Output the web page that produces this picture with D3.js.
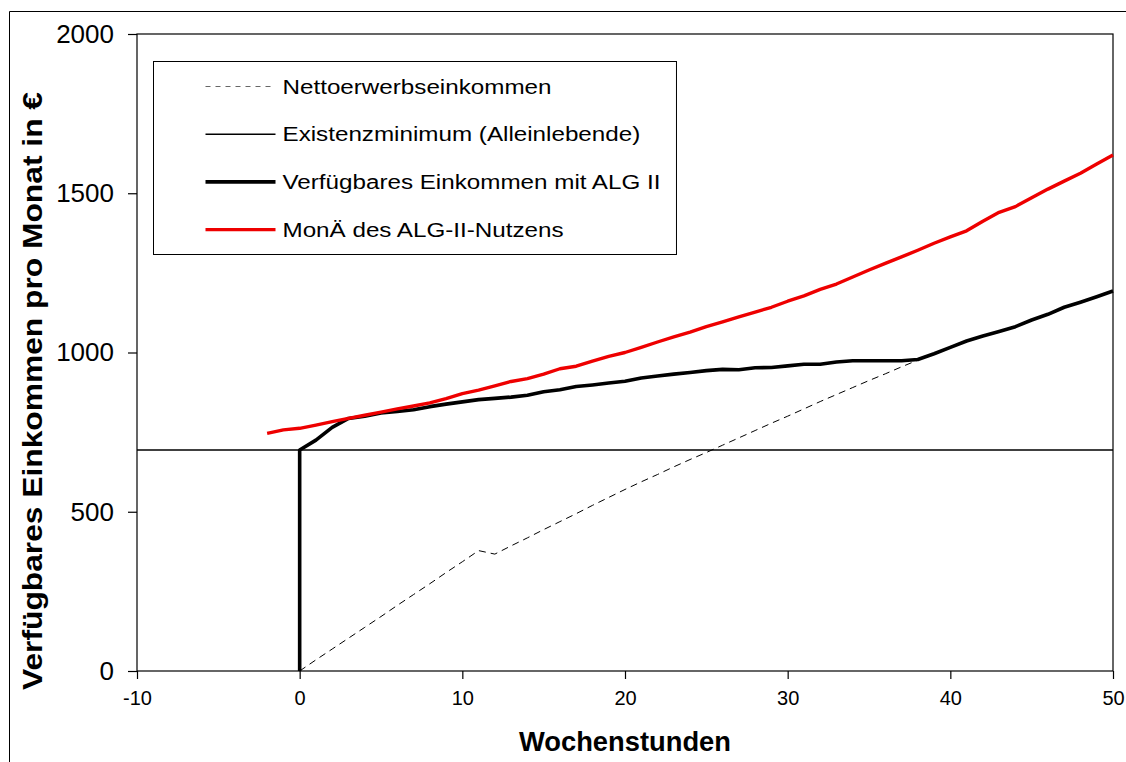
<!DOCTYPE html>
<html>
<head>
<meta charset="utf-8">
<script src="https://cdn.jsdelivr.net/npm/d3@7"></script>
<style>
  body { margin: 0; background: #fff; }
  text { font-family: Arial, "Liberation Sans", sans-serif; fill: #000; }
</style>
</head>
<body>
<div id="chart"></div>
<script>
// Wochenstunden (x) und Werte in Euro pro Monat
var stundenNetto = d3.range(0, 51);
var netto = [0,35,69,103,137,171,206,240,274,309,343,378,367,393,418,444,469,494,520,545,
  570,594,617,641,664,686,709,732,755,778,800,823,846,868,890,912,933,955,976,
  996,1016,1036,1052,1066,1081,1102,1120,1142,1158,1175,1193];

var stundenExist = [-10, 50];
var existenzminimum = [694, 694];

var stundenAlg = [0].concat(d3.range(0, 51));
var verfuegbar = [0, 694,
  725,765,793,800,810,815,820,830,838,845,
  852,856,860,866,877,883,893,898,904,910,
  920,926,932,937,943,947,946,952,953,958,
  963,963,970,974,974,974,974,978,996,1016,
  1036,1052,1066,1081,1102,1120,1142,1158,1175,1193];

var stundenMon = d3.range(-2, 51);
var monae = [746,757,
  762,772,783,793,803,813,823,832,842,855,
  871,882,895,909,918,932,949,957,973,988,
  1000,1016,1033,1049,1064,1081,1096,1112,1127,1142,
  1161,1178,1198,1215,1237,1259,1280,1300,1321,1343,
  1363,1382,1412,1440,1458,1486,1513,1538,1563,1592,1620];

var xTicks = [-10, 0, 10, 20, 30, 40, 50];
var yTicks = [0, 500, 1000, 1500, 2000];

var legendNames = ["Nettoerwerbseinkommen", "Existenzminimum (Alleinlebende)",
  "Verfügbares Einkommen mit ALG II", "MonÄ des ALG-II-Nutzens"];

var width = 1126, height = 762;
var margin = {top: 34, right: 13, bottom: 91, left: 137};

var svg = d3.select("#chart")
    .append("svg")
    .attr("width", width)
    .attr("height", height);

svg.append("rect").attr("width", width).attr("height", height).attr("fill", "#fff");

// outer chart border (only left and top show)
svg.append("path")
    .attr("d", "M9.5," + height + "V11.5H" + width)
    .attr("fill", "none")
    .attr("stroke", "#000")
    .attr("stroke-width", 1);

var x = d3.scaleLinear()
    .domain([-10, 50])
    .range([margin.left, width - margin.right]);

var y = d3.scaleLinear()
    .domain([0, 2000])
    .range([height - margin.bottom, margin.top]);

// plot area frame
svg.append("rect")
    .attr("x", x(-10))
    .attr("y", y(2000))
    .attr("width", x(50) - x(-10))
    .attr("height", y(0) - y(2000))
    .attr("fill", "none")
    .attr("stroke", "#000")
    .attr("stroke-width", 1.2);

var yAxis = svg.append("g")
    .attr("transform", "translate(" + x(-10) + ",0)")
    .call(d3.axisLeft(y).tickValues(yTicks).tickSize(9).tickPadding(14).tickFormat(function (d) { return String(d); }));

yAxis.selectAll("text").style("font-size", "26px");

var xAxis = svg.append("g")
    .attr("transform", "translate(0," + y(0) + ")")
    .call(d3.axisBottom(x).tickValues(xTicks).tickSize(8).tickPadding(12).tickFormat(function (d) { return String(d); }));

xAxis.selectAll("text").style("font-size", "20px");
svg.selectAll(".domain").remove();
svg.selectAll(".tick line").attr("stroke", "#000").attr("stroke-width", 1.2);

var line = d3.line()
    .x(function (d) { return x(d[0]); })
    .y(function (d) { return y(d[1]); });

function pairs(xs, ys) {
  return xs.map(function (h, i) { return [h, ys[i]]; });
}

var styles = [
  {stroke: "#000", width: 1, dash: "7,5"},
  {stroke: "#000", width: 1.6, dash: null},
  {stroke: "#000", width: 3.6, dash: null},
  {stroke: "#ee0000", width: 3.4, dash: null}
];

var series = [
  pairs(stundenNetto, netto),
  pairs(stundenExist, existenzminimum),
  pairs(stundenAlg, verfuegbar),
  pairs(stundenMon, monae)
];

var g = svg.append("g");

series.forEach(function (s, i) {
  g.append("path")
      .datum(s)
      .attr("d", line)
      .attr("fill", "none")
      .attr("stroke", styles[i].stroke)
      .attr("stroke-width", styles[i].width)
      .attr("stroke-dasharray", styles[i].dash)
      .attr("stroke-linejoin", "round");
});

// legend
var legend = svg.append("g").attr("transform", "translate(153.5,61.5)");

var legendBox = legend.append("rect")
    .attr("height", 193)
    .attr("fill", "#fff")
    .attr("stroke", "#000")
    .attr("stroke-width", 1);

var maxRight = 0;
legendNames.forEach(function (name, i) {
  var ly = 25 + i * 47.7;
  legend.append("line")
      .attr("x1", 52).attr("x2", 122)
      .attr("y1", ly).attr("y2", ly)
      .attr("stroke", i == 0 ? "#666" : styles[i].stroke)
      .attr("stroke-width", styles[i].width)
      .attr("stroke-dasharray", i == 0 ? "5,5" : null);
  var t = legend.append("text")
      .attr("x", 129)
      .attr("y", ly)
      .attr("dy", "0.35em")
      .style("font-size", "20px")
      .text(name);
  // text in the original is drawn wider than plain Arial
  var w = t.node().getComputedTextLength() * 1.21;
  t.attr("textLength", w).attr("lengthAdjust", "spacingAndGlyphs");
  maxRight = Math.max(maxRight, 129 + w);
});

legendBox.attr("width", maxRight + 16);

// axis titles
svg.append("text")
    .attr("x", (x(-10) + x(50)) / 2)
    .attr("y", 751)
    .attr("text-anchor", "middle")
    .attr("textLength", 212)
    .attr("lengthAdjust", "spacingAndGlyphs")
    .style("font-size", "27px")
    .style("font-weight", "bold")
    .text("Wochenstunden");

svg.append("text")
    .attr("transform", "translate(42," + 391 + ") rotate(-90)")
    .attr("text-anchor", "middle")
    .attr("textLength", 598)
    .attr("lengthAdjust", "spacingAndGlyphs")
    .style("font-size", "28px")
    .style("font-weight", "bold")
    .text("Verfügbares Einkommen pro Monat in €");
</script>
</body>
</html>
